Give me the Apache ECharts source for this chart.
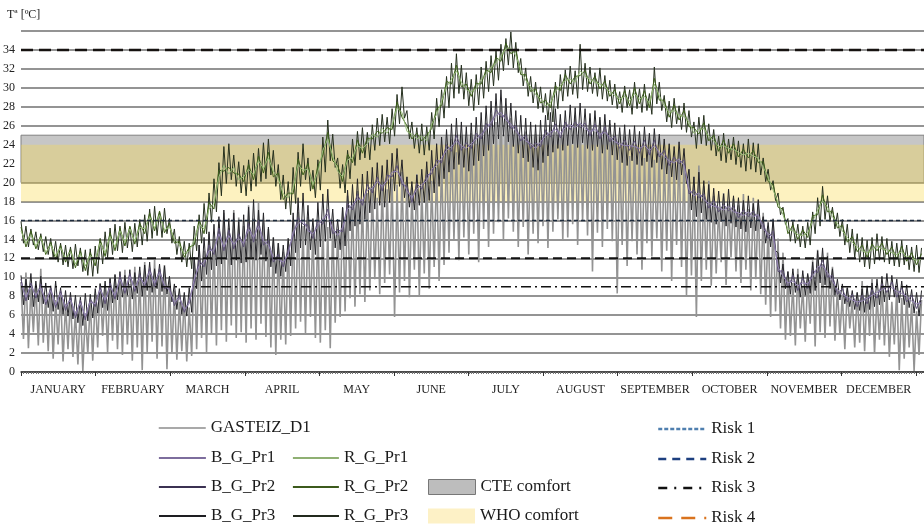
<!DOCTYPE html>
<html>
<head>
<meta charset="utf-8">
<script src="https://cdn.jsdelivr.net/npm/echarts@6/dist/echarts.min.js"></script>
<style>html,body{margin:0;padding:0;background:#fff}#c{width:924px;height:526px}</style>
</head>
<body>
<div id="c"></div>
<script>
const months = ['JANUARY','FEBRUARY','MARCH','APRIL','MAY','JUNE','JULY','AUGUST','SEPTEMBER','OCTOBER','NOVEMBER','DECEMBER'];
const yTitle = 'Tª [ºC]';
const cteComfort = [20, 25];
const whoComfort = [18, 24];
const riskNames = ['Risk 1','Risk 2','Risk 3','Risk 4'];
const riskLevels = [16, 12, 9, 34];

// daily values (alternating daily max / min), day 0..364
const gasteizD1 = [
9.5,3.5,10.5,2.5,8.8,4.2,9.2,2.8,10.9,3.1,
8.1,2.2,8.9,1.4,7.6,2.9,8.4,1.1,7.2,2.4,
7.8,1.6,6.4,0.8,7.1,0.1,6.2,1.9,7.5,1.2,
8.2,2.6,9.4,3.8,8.7,2.1,9.9,3.3,10.2,2.4,
9.6,1.8,10.8,2.9,9.3,1.2,11.1,2.6,10.4,0.2,
11.6,2.1,10.7,3.2,11.9,1.4,10.9,2.7,11.3,0.3,
9.8,1.9,8.6,1.3,7.4,2.2,7.9,1.1,6.8,1.7,
12.1,2.4,13.4,3.6,12.8,2.1,14.6,3.9,13.9,2.8,
15.6,4.4,16.8,3.2,15.2,4.9,17.1,3.6,16.3,4.2,
15.4,3.1,17.6,4.6,16.2,3.4,17.9,5.1,15.8,3.7,
15.1,2.6,14.2,1.8,13.6,3.4,12.7,2.9,14.1,3.8,
15.8,4.6,16.9,5.3,15.4,4.1,16.4,5.8,15.2,3.6,
15.6,3.1,16.1,4.4,15.3,2.5,15.9,5.2,15.1,5.8,
17.3,6.4,18.6,7.8,17.8,6.9,19.1,8.2,18.2,7.4,
18.9,8.6,19.6,9.8,18.4,8.2,20.1,9.4,19.3,10.3,
20.4,5.8,19.8,8.4,21.1,9.6,20.6,7.9,19.4,10.8,
20.9,8.1,19.6,10.4,21.3,8.8,20.2,11.1,21.6,9.6,
22.4,11.3,23.8,12.6,24.6,13.9,23.2,11.8,24.9,14.2,
23.6,12.4,25.2,14.6,24.1,11.6,25.8,15.1,26.3,13.2,
27.2,14.6,26.4,15.8,27.9,13.9,28.1,16.2,26.8,14.8,
25.9,13.2,24.6,15.3,25.4,12.4,24.2,14.6,25.1,13.6,
24.8,15.4,25.6,13.1,26.1,14.8,25.3,16.1,24.7,13.9,
26.4,14.2,25.8,15.6,27.1,13.4,26.2,15.9,25.6,14.4,
26.8,10.6,25.4,14.7,26.6,13.2,25.9,15.1,26.2,13.8,
24.8,8.3,23.6,13.4,24.9,11.2,22.8,13.8,23.9,12.4,
23.2,10.8,22.6,13.6,23.8,12.2,22.4,14.1,23.1,10.6,
22.7,12.8,23.6,9.6,22.2,13.4,23.4,11.1,22.1,8.1,
21.4,10.2,20.6,5.8,21.8,9.6,19.6,10.8,20.2,9.1,
18.6,10.4,17.4,11.6,18.9,9.2,17.8,12.1,18.3,10.6,
17.6,9.4,18.8,10.8,17.2,8.6,18.4,9.8,17.9,8.2,
16.8,7.1,15.4,5.8,16.2,6.4,14.1,4.6,12.6,3.4,
10.6,3.8,9.4,2.8,10.9,4.6,9.1,3.2,10.2,5.1,
11.8,2.7,12.9,4.2,11.4,3.6,12.6,4.8,11.1,3.3,
8.8,3.9,8.1,2.4,8.9,4.6,7.6,2.6,8.4,3.1,
9.6,2.2,8.7,3.8,9.9,1.9,8.2,3.4,9.3,2.8,
8.6,1.6,7.4,2.9,8.9,0.2,7.8,1.4,8.3,2.6,
7.2,0.1,6.4,1.8,7.6
];
const bGPr3 = [
10.2,7.1,9.8,7.6,10.4,6.9,9.6,7.4,10.1,7.2,
9.4,6.8,9.1,6.4,9.6,6.6,8.9,6.1,8.6,5.9,
8.4,5.6,8.1,5.2,7.9,4.9,8.3,5.4,8.2,5.7,
8.8,6.2,9.3,6.8,9.6,6.5,9.9,7.3,10.3,7.6,
10.6,7.9,10.2,8.1,10.8,7.7,10.5,8.3,11.1,8.0,
11.3,8.6,11.6,8.4,10.9,8.8,11.4,8.5,11.2,8.2,
10.1,7.4,9.3,6.6,8.8,6.1,8.4,5.9,8.9,6.3,
12.1,8.8,13.4,9.6,14.2,10.3,14.8,10.8,15.6,11.2,
16.4,11.4,17.1,11.9,16.2,11.3,16.8,11.8,15.9,11.5,
16.6,11.6,17.4,12.1,18.2,11.8,17.1,12.4,16.8,11.7,
15.3,11.1,14.2,10.4,13.6,10.1,13.4,10.6,14.1,11.2,
16.8,12.6,18.4,13.1,18.9,13.4,17.6,12.9,16.2,12.4,
17.9,13.2,18.8,13.8,19.3,14.1,17.2,13.1,16.1,12.9,
17.4,13.3,19.2,14.9,19.8,15.4,20.4,15.6,20.9,16.1,
21.2,16.8,21.6,17.2,22.1,17.6,21.8,17.4,22.4,17.9,
23.1,19.1,23.6,19.6,22.4,18.4,20.6,17.4,20.1,17.1,
20.8,17.6,21.4,17.9,22.2,18.1,23.4,18.9,24.1,19.6,
24.8,20.4,25.6,21.1,26.2,21.4,26.8,21.9,26.4,21.6,
25.9,21.2,26.3,21.8,26.9,22.3,27.4,22.8,28.1,23.4,
28.6,24.1,29.4,24.6,29.8,24.9,28.9,24.3,28.4,23.8,
27.6,23.1,27.1,22.6,26.8,22.2,26.4,21.6,26.1,21.3,
26.6,22.1,27.1,22.8,27.4,23.2,27.8,23.6,27.2,23.4,
27.6,23.9,28.2,24.1,27.9,23.7,28.4,24.2,27.8,23.6,
27.3,23.4,27.6,23.8,26.9,23.1,27.2,23.5,26.6,22.9,
26.3,22.4,25.8,22.1,26.1,21.8,25.6,22.3,26.0,21.9,
25.4,21.8,25.9,22.2,25.2,21.6,25.7,22.1,25.1,21.4,
24.6,20.9,24.1,20.6,23.8,20.3,24.3,20.8,23.6,19.9,
21.4,17.1,20.6,16.4,21.1,16.8,20.2,16.1,19.8,15.8,
19.4,15.6,19.1,15.9,18.8,15.4,19.3,15.7,18.6,15.3,
18.4,15.1,18.1,14.8,18.6,15.2,17.8,14.9,18.2,15.1,
16.4,13.6,15.8,13.2,16.1,12.8,12.6,9.4,11.4,8.8,
10.6,8.2,10.9,8.4,10.3,7.9,10.7,8.1,10.4,8.3,
11.6,8.6,12.8,9.4,13.1,9.2,12.2,8.8,10.9,8.1,
9.8,7.6,9.3,7.2,8.9,6.9,8.6,6.6,8.4,6.5,
8.8,6.3,9.1,6.6,9.4,6.9,9.8,7.1,10.1,7.4,
10.4,7.6,10.2,7.9,9.8,7.3,9.6,7.1,9.2,6.8,
8.7,6.2,8.4,5.9,8.6
];
const rGPr3 = [
15.9,13.6,15.4,13.2,15.1,13.4,14.8,12.9,14.6,12.7,
14.3,12.4,14.1,12.1,13.8,11.6,13.6,11.3,13.4,11.1,
13.2,10.9,13.5,11.2,13.1,10.6,12.9,10.2,13.0,10.1,
13.3,10.4,14.1,11.4,14.8,12.1,15.2,12.4,15.6,12.8,
15.4,12.6,15.8,13.1,15.3,12.7,15.7,13.2,16.1,13.4,
16.6,13.8,17.2,14.1,17.5,14.4,16.9,14.2,17.3,14.6,
16.2,13.6,15.1,12.4,14.3,11.6,13.8,11.1,13.6,10.9,
15.4,12.8,16.6,13.6,17.8,14.6,18.9,15.8,20.4,16.9,
22.1,18.6,23.8,19.9,24.1,20.3,22.9,19.6,22.2,18.9,
21.8,18.6,22.4,19.1,23.1,19.6,23.6,20.1,24.2,20.4,
24.6,20.8,23.4,19.6,21.9,18.2,20.8,17.2,20.1,16.6,
21.6,17.8,23.2,19.6,24.1,20.3,22.6,19.1,21.3,18.4,
22.4,19.2,24.8,21.1,26.6,22.3,25.1,21.6,22.6,19.4,
21.9,18.9,23.4,20.4,24.6,21.8,25.4,22.4,25.8,22.6,
25.3,22.4,26.1,23.4,26.8,23.9,27.2,24.3,26.9,24.1,
27.8,24.9,29.3,26.2,30.1,26.8,27.6,24.6,26.4,23.6,
25.8,23.1,26.2,22.9,25.9,23.4,27.4,24.6,28.9,25.9,
29.8,26.8,31.2,27.9,32.6,28.9,33.6,29.4,32.4,28.8,
31.6,28.1,30.9,27.6,31.4,28.2,32.2,28.9,32.8,29.6,
33.4,30.2,33.9,30.8,34.6,31.8,35.2,32.4,35.9,32.1,
34.8,31.6,33.1,30.2,32.1,29.1,31.2,28.4,30.6,27.8,
30.1,27.4,29.4,26.6,29.8,26.4,30.6,27.8,31.4,28.6,
31.9,29.1,32.3,29.3,31.8,28.9,34.6,29.8,32.6,29.6,
32.2,29.4,31.6,29.1,32.1,28.8,31.3,28.6,30.8,28.2,
30.4,27.8,29.6,27.4,30.2,27.9,29.8,27.2,30.6,27.8,
29.9,27.4,30.4,27.6,29.4,27.2,32.2,28.3,30.6,27.6,
29.2,26.4,28.6,25.8,28.9,26.2,28.1,25.6,28.4,25.3,
27.6,24.8,26.4,23.6,26.9,24.1,27.1,23.9,26.2,23.4,
25.6,22.8,24.9,22.3,25.2,22.1,24.6,22.4,24.8,21.9,
24.4,21.6,24.1,21.2,24.6,21.4,24.2,21.1,24.1,20.8,
22.6,20.1,21.4,19.2,20.2,18.1,18.9,16.6,17.4,15.6,
16.2,13.8,15.9,13.6,15.6,13.2,15.4,13.1,15.8,13.4,
16.9,14.6,18.4,15.4,19.6,16.1,18.6,15.9,17.4,15.1,
16.8,14.3,16.1,13.4,15.6,12.6,15.1,12.1,14.6,11.6,
14.2,11.1,13.9,10.9,14.2,11.4,14.6,11.8,14.3,11.6,
14.1,11.4,13.8,11.2,13.6,11.1,13.9,11.3,13.4,10.8,
13.2,10.6,13.4,10.5,13.1
];
// values every 2 days, day 0..364
const rGPr1 = [
14.9,13.6,14.5,13.3,14.2, 12.6,13.4,12.3,13.1,12.0, 12.7,11.4,12.5,11.2,12.3, 11.8,13.6,12.6,14.3,13.2,
14.9,13.7,15.1,13.8,15.3, 15.1,16.4,15.2,16.6,15.0, 15.3,14.1,13.4,12.5,12.8, 13.9,15.6,15.1,17.2,17.8,
20.6,21.8,20.9,21.6,20.3, 20.6,21.4,20.8,22.3,21.5, 22.6,21.2,20.4,18.8,18.4, 19.4,21.9,21.3,21.4,19.8,
21.1,23.4,24.6,22.8,21.2, 20.6,22.4,22.6,23.9,23.6, 24.1,25.1,24.8,25.7,25.2, 26.1,27.9,27.4,25.4,25.1,
24.6,24.9,24.4,26.2,27.2, 28.6,30.1,30.9,31.8,30.6, 29.8,29.6,29.9,30.9,31.4, 32.2,32.6,33.4,34.1,34.2,
33.4,31.9,30.8,30.1,29.3, 28.9,28.1,28.4,29.6,30.2, 30.8,30.9,30.6,31.8,31.2, 30.9,30.6,30.4,30.1,29.6,
29.2,28.8,29.1,28.6,29.4, 28.8,29.1,28.4,30.4,29.2, 28.1,27.4,27.6,27.1,27.0, 26.4,25.2,25.6,25.7,24.9,
24.4,23.8,23.9,23.6,23.5, 23.2,22.9,23.1,22.8,22.6, 21.6,20.6,19.2,17.9,16.6, 15.1,14.9,14.5,14.4,14.7,
15.9,17.1,18.1,17.4,16.4, 15.7,14.9,14.2,13.7,13.2, 12.8,12.6,12.9,13.3,13.0, 12.9,12.6,12.4,12.7,12.2,
12.0,11.8,11.9
];
const rGPr2 = [
15.3,13.2,14.9,13.0,14.4, 12.4,13.7,11.9,13.4,11.6, 13.0,11.0,12.8,10.7,12.6, 11.2,14.0,12.2,14.7,12.8,
15.2,13.3,15.4,13.5,15.7, 14.6,16.8,14.9,17.0,14.7, 15.7,13.6,13.8,12.1,13.2, 13.4,16.1,14.6,17.9,17.2,
21.3,21.2,21.6,21.0,20.9, 20.1,21.9,20.3,22.8,21.0, 23.2,20.6,21.0,18.2,18.9, 18.8,22.5,20.8,22.0,19.3,
21.7,22.9,25.3,22.3,21.8, 20.1,23.0,22.1,24.5,23.1, 24.7,24.6,25.4,25.2,25.8, 25.6,28.5,26.9,26.0,24.6,
25.2,24.4,25.0,25.7,27.8, 28.1,30.7,30.4,32.4,30.1, 30.4,29.1,30.5,30.4,31.9, 31.6,33.2,32.8,34.7,33.6,
34.0,31.4,31.4,29.6,29.9, 28.4,28.7,27.9,30.2,29.7, 31.4,30.4,31.2,31.3,31.8, 30.4,31.2,29.9,30.7,29.1,
29.8,28.3,29.7,28.1,30.0, 28.3,29.7,27.9,31.0,28.7, 28.7,26.9,28.2,26.6,27.6, 25.9,25.8,25.1,26.3,24.4,
25.0,23.3,24.5,23.1,24.1, 22.7,23.5,22.6,23.4,22.1, 22.2,20.1,19.8,17.4,17.2, 14.6,15.5,14.0,15.0,14.2,
16.5,16.6,18.7,16.9,17.0, 15.2,15.5,13.7,14.3,12.7, 13.4,12.1,13.5,12.8,13.6, 12.4,13.2,11.9,13.3,11.7,
12.6,11.3,12.5
];
const bGPr1 = [
9.4,7.9,9.1,8.1,8.9, 7.4,8.6,7.1,8.3,6.9, 7.6,6.1,7.3,5.9,7.4, 7.2,8.7,7.6,9.0,8.1,
9.8,8.6,10.1,8.8,9.9, 9.3,10.6,9.4,10.5,9.2, 8.6,7.4,7.8,6.6,7.2, 9.8,11.2,11.6,12.8,12.9,
14.6,13.2,14.4,13.5,14.1, 13.6,15.1,14.2,15.4,13.9, 13.4,12.1,11.9,11.6,12.4, 14.8,15.6,16.1,14.9,14.6,
15.4,16.2,16.6,15.1,14.4, 15.3,17.2,17.6,18.3,18.1, 19.2,19.4,20.1,19.6,20.2, 21.1,21.2,20.3,19.1,18.4,
19.3,19.8,20.2,21.4,21.8, 22.6,23.4,23.8,24.4,23.9, 23.6,24.1,24.6,25.1,25.6, 26.4,27.1,27.4,26.6,26.2,
25.4,24.9,24.4,24.1,23.6, 24.3,24.9,25.3,25.6,25.2, 25.8,26.1,25.8,26.3,25.7, 25.4,25.6,25.1,25.3,24.8,
24.3,24.1,23.9,23.9,23.8, 23.6,23.9,23.4,23.9,23.2, 22.8,22.3,22.1,22.5,21.8, 19.3,18.6,18.9,18.2,17.8,
17.5,17.4,17.1,17.5,16.9, 16.8,16.5,16.9,16.4,16.6, 15.1,14.6,14.3,11.1,10.1, 9.4,9.6,9.1,9.4,9.3,
10.1,11.1,11.2,10.5,9.6, 8.7,8.2,7.9,7.6,7.4, 7.5,7.8,8.1,8.4,8.7, 9.0,8.9,8.5,8.3,8.0,
7.5,7.2,7.3
];
const bGPr2 = [
9.8,7.5,9.4,7.8,9.3, 7.1,8.9,6.8,8.6,6.5, 7.9,5.7,7.6,5.5,7.7, 6.9,9.0,7.2,9.4,7.7,
10.2,8.3,10.4,8.5,10.3, 8.9,11.0,9.0,10.9,8.8, 9.0,7.0,8.1,6.3,7.6, 9.4,11.8,11.1,13.4,12.4,
15.2,12.8,15.0,13.0,14.6, 13.2,15.7,13.7,16.0,13.4, 13.9,11.6,12.4,11.1,12.9, 14.3,16.3,15.6,15.5,14.1,
16.0,15.6,17.2,14.6,15.0, 14.8,17.8,17.1,18.8,17.6, 19.8,18.9,20.6,19.1,20.8, 20.6,21.8,19.8,19.6,17.9,
19.9,19.3,20.8,20.9,22.4, 22.1,24.0,23.3,25.0,23.4, 24.2,23.6,25.2,24.6,26.2, 25.9,27.7,26.9,27.2,25.7,
26.0,24.4,25.0,23.6,24.2, 23.8,25.5,24.8,26.2,24.7, 26.4,25.6,26.4,25.8,26.3, 24.9,26.2,24.6,25.9,24.3,
24.9,23.6,24.5,23.4,24.4, 23.1,24.5,22.9,24.5,22.7, 23.4,21.8,22.7,22.0,22.4, 18.8,19.2,18.4,18.8,17.3,
18.1,16.9,17.7,17.0,17.5, 16.3,17.1,16.4,17.0,16.1, 15.7,14.1,14.9,10.6,10.7, 8.9,10.2,8.6,9.9,8.8,
10.7,10.5,11.8,10.0,10.2, 8.2,8.8,7.4,8.2,6.9, 8.1,7.2,8.7,7.8,9.3, 8.4,9.5,7.9,8.9,7.4,
8.1,6.7,7.9
];

const SERIF = '"Liberation Serif","Times New Roman",serif';
const daily = arr => arr.map((v, i) => [i, v]);
const every2 = arr => arr.map((v, i) => [i * 2, v]);

const seriesColors = {
  'GASTEIZ_D1': '#939393',
  'B_G_Pr3': '#242428',
  'B_G_Pr2': '#5e5278',
  'B_G_Pr1': '#9586b5',
  'R_G_Pr3': '#26301f',
  'R_G_Pr2': '#3f621c',
  'R_G_Pr1': '#97bb7a'
};

function lineSeries(name, data, width, z) {
  const color = seriesColors[name];
  return {
    name, type: 'line', xAxisIndex: 0, yAxisIndex: 0, data,
    symbol: 'none', showSymbol: false, silent: true, z: z,
    lineStyle: { color, width }, itemStyle: { color }
  };
}

const riskStyles = [
  { color: '#1d2b3c', width: 1.5, type: [4, 3] },
  { color: '#111111', width: 2, type: [9, 5] },
  { color: '#111111', width: 1.3, type: [10, 4, 2, 4] },
  { color: '#161210', width: 2.5, type: [12, 6] }
];
const riskLegend = [
  { color: '#4f7faf', width: 2.5, type: [4, 2] },
  { color: '#1d3f7f', width: 2.5, type: [8, 6] },
  { color: '#111111', width: 2.5, type: [9, 7, 2, 7] },
  { color: '#d9731e', width: 2.5, type: [14, 9] }
];

const series = [
  {
    name: 'CTE comfort', type: 'line', xAxisIndex: 0, yAxisIndex: 0, data: [], z: 1, silent: true,
    itemStyle: { color: '#c4c4c4' },
    markArea: { silent: true, z: 1, itemStyle: { color: '#c6c6c6', borderColor: '#808080', borderWidth: 1 },
      data: [[{ yAxis: cteComfort[0] }, { yAxis: cteComfort[1] }]] }
  },
  {
    name: 'WHO comfort', type: 'line', xAxisIndex: 0, yAxisIndex: 0, data: [], z: 1, silent: true,
    itemStyle: { color: '#fdf1c6' },
    markArea: { silent: true, z: 1, itemStyle: { color: 'rgba(250,219,80,0.36)' },
      data: [[{ yAxis: whoComfort[0] }, { yAxis: whoComfort[1] }]] }
  },
  lineSeries('GASTEIZ_D1', daily(gasteizD1), 1.6, 3),
  lineSeries('B_G_Pr3', daily(bGPr3), 1, 4),
  lineSeries('B_G_Pr2', every2(bGPr2), 1, 5),
  lineSeries('B_G_Pr1', every2(bGPr1), 1, 6),
  lineSeries('R_G_Pr3', daily(rGPr3), 1, 7),
  lineSeries('R_G_Pr2', every2(rGPr2), 1, 8),
  lineSeries('R_G_Pr1', every2(rGPr1), 1, 9)
];
riskNames.forEach((n, i) => {
  series.push({
    name: n, type: 'line', xAxisIndex: 0, yAxisIndex: 0, symbol: 'none', silent: true, z: 10,
    data: [[0, riskLevels[i]], [365, riskLevels[i]]],
    lineStyle: riskStyles[i], itemStyle: { color: riskStyles[i].color }
  });
});

const legendText = { fontFamily: SERIF, fontSize: 17, color: '#1a1a1a', lineHeight: 17 };
const hiddenSymbol = { opacity: 0, borderWidth: 0 };
// one legend box per entry: [name, left, rowCenterY, iconWidth, item style]
const legendRows = [
  ['GASTEIZ_D1', 158, 428, 47, { lineStyle: { color: '#8c8c8c', width: 1.5 }, itemStyle: hiddenSymbol }],
  ['B_G_Pr1', 158, 458, 47, { lineStyle: { color: '#7d6d9d', width: 1.8 }, itemStyle: hiddenSymbol }],
  ['B_G_Pr2', 158, 487, 47, { lineStyle: { color: '#3b3152', width: 1.8 }, itemStyle: hiddenSymbol }],
  ['B_G_Pr3', 158, 516, 47, { lineStyle: { color: '#1e1e22', width: 2 }, itemStyle: hiddenSymbol }],
  ['R_G_Pr1', 292, 458, 46, { lineStyle: { color: '#8fb073', width: 1.8 }, itemStyle: hiddenSymbol }],
  ['R_G_Pr2', 292, 487, 46, { lineStyle: { color: '#3c5a1c', width: 1.8 }, itemStyle: hiddenSymbol }],
  ['R_G_Pr3', 292, 516, 46, { lineStyle: { color: '#232a1e', width: 2 }, itemStyle: hiddenSymbol }],
  ['CTE comfort', 428, 487, 47, { icon: 'rect', itemStyle: { color: '#bdbdbd', borderColor: '#777', borderWidth: 1 } }],
  ['WHO comfort', 428, 516, 47, { icon: 'rect', itemStyle: { color: '#fdf1c6', borderWidth: 0 } }]
];
riskNames.forEach((n, i) => legendRows.push([n, 657, [429, 459, 488, 518][i], 48, { lineStyle: riskLegend[i], itemStyle: hiddenSymbol }]));

const legends = legendRows.map(([name, left, cy, w, st]) => ({
  show: true, orient: 'horizontal', left: left, top: cy - 8.5, padding: 0,
  itemWidth: w, itemHeight: st.icon === 'rect' ? 15 : 12, itemGap: 5,
  selectedMode: false, textStyle: legendText,
  data: [Object.assign({ name }, st)]
}));

const option = {
  animation: false,
  backgroundColor: '#ffffff',
  grid: [
    { left: 21, right: 0, top: 31, bottom: 154 },
    { left: 21, right: 8, top: 31, bottom: 154 }
  ],
  xAxis: [
    { type: 'value', gridIndex: 0, min: 0, max: 365, interval: 1,
      axisLine: { show: true, lineStyle: { color: '#333', width: 1.5 } },
      axisTick: { show: true, length: 2, lineStyle: { color: '#777', width: 1 } },
      axisLabel: { show: false }, splitLine: { show: false } },
    { type: 'category', gridIndex: 1, data: months, boundaryGap: true,
      axisLine: { show: false },
      axisTick: { show: true, length: 4, interval: 0, lineStyle: { color: '#333', width: 1 } },
      axisLabel: { interval: 0, fontFamily: SERIF, fontSize: 12, color: '#222', margin: 12 },
      splitLine: { show: false } }
  ],
  yAxis: [
    { type: 'value', gridIndex: 0, min: 0, max: 36, interval: 2,
      axisLine: { show: false }, axisTick: { show: false },
      axisLabel: { fontFamily: SERIF, fontSize: 12, color: '#222', margin: 6,
        formatter: v => (v === 36 ? '' : String(v)) },
      splitLine: { show: true, lineStyle: { color: '#707070', width: 1.5 } } },
    { type: 'value', gridIndex: 1, min: 0, max: 36, show: false, splitLine: { show: false } }
  ],
  graphic: [
    { type: 'text', left: 7, top: 9, style: { text: yTitle, fontFamily: SERIF, fontSize: 12, fill: '#222' } }
  ],
  legend: legends,
  series
};

const chart = echarts.init(document.getElementById('c'), null, { renderer: 'canvas' });
chart.setOption(option);
</script>
</body>
</html>
